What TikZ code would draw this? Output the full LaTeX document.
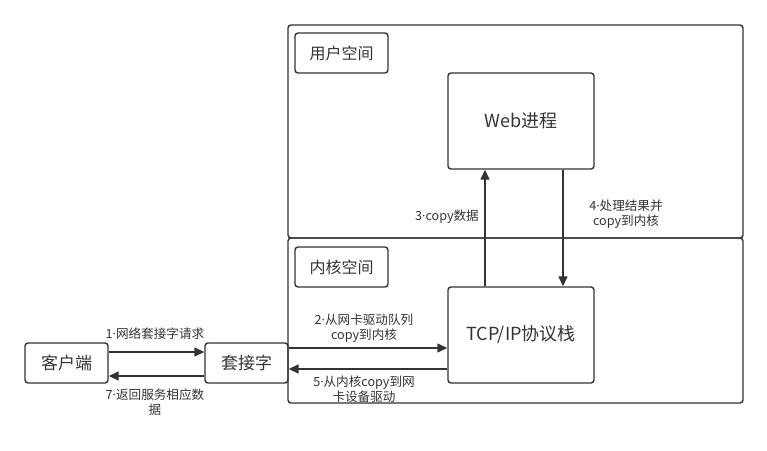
\documentclass[tikz,border=0pt]{standalone}
\usepackage{fontspec}
\setmainfont{Noto Sans CJK SC}
\newfontfamily\lat{Open Sans}
\newcommand{\md}{{\lat ·}}
\usetikzlibrary{arrows.meta,calc}
\definecolor{ln}{HTML}{333333}
\definecolor{tx}{HTML}{333333}
\tikzset{
  box/.style={draw=ln,line width=1.4pt,rounded corners=3pt,inner sep=0pt,text=tx,align=center},
  area/.style={draw=ln,line width=1.4pt,rounded corners=3pt,inner sep=0pt},
  conn/.style={draw=ln,line width=1.4pt,-{Triangle[length=10pt,width=9pt]}},
  lbl/.style={text=tx,font=\fontsize{12.6}{15.5}\selectfont,align=center,inner sep=0pt}
}
\begin{document}
\begin{tikzpicture}[x=1pt,y=-1pt]
\useasboundingbox (0,0) rectangle (767,450);
\node[area,minimum width=455pt,minimum height=213pt] (user) at (515.5,131.5) {};
\node[area,minimum width=455pt,minimum height=165pt] (kern) at (515.5,320.5) {};
\node[box,minimum width=93pt,minimum height=40pt,font=\fontsize{16}{18}\selectfont] (ul) at (341.5,53) {用户空间};
\node[box,minimum width=93pt,minimum height=40pt,font=\fontsize{16}{18}\selectfont] (kl) at (341.5,267) {内核空间};
\node[box,minimum width=146pt,minimum height=96pt,font=\fontsize{18}{20}\selectfont] (web) at (521,121) {Web进程};
\node[box,minimum width=146pt,minimum height=96pt,font=\fontsize{18}{20}\selectfont] (tcp) at (521,335) {TCP/IP协议栈};
\node[box,minimum width=83pt,minimum height=40pt,font=\fontsize{17}{19}\selectfont] (cli) at (66.5,363) {客户端};
\node[box,minimum width=83pt,minimum height=40pt,font=\fontsize{17}{19}\selectfont] (sock) at (246.5,363) {套接字};
% connectors
\draw[conn] (cli.east |- 0,352) -- (sock.west |- 0,352);
\draw[conn] (sock.west |- 0,376) -- (cli.east |- 0,376);
\draw[conn] (sock.east |- 0,348) -- (tcp.west |- 0,348);
\draw[conn] (tcp.west |- 0,369) -- (sock.east |- 0,369);
\draw[conn] (tcp.north -| 485,0) -- (web.south -| 485,0);
\draw[conn] (web.south -| 563,0) -- (tcp.north -| 563,0);
% labels
\node[lbl] (l1) at (155,334) {1\md 网络套接字请求};
\node[lbl] (l7) at (155,402) {7\md 返回服务相应数\\据};
\node[lbl] (l2) at (364,328) {2\md 从网卡驱动队列\\copy到内核};
\node[lbl] (l5) at (364,389) {5\md 从内核copy到网\\卡设备驱动};
\node[lbl] (l3) at (447,217) {3\md copy数据};
\node[lbl] (l4) at (626,214) {4\md 处理结果并\\copy到内核};
\end{tikzpicture}
\end{document}
